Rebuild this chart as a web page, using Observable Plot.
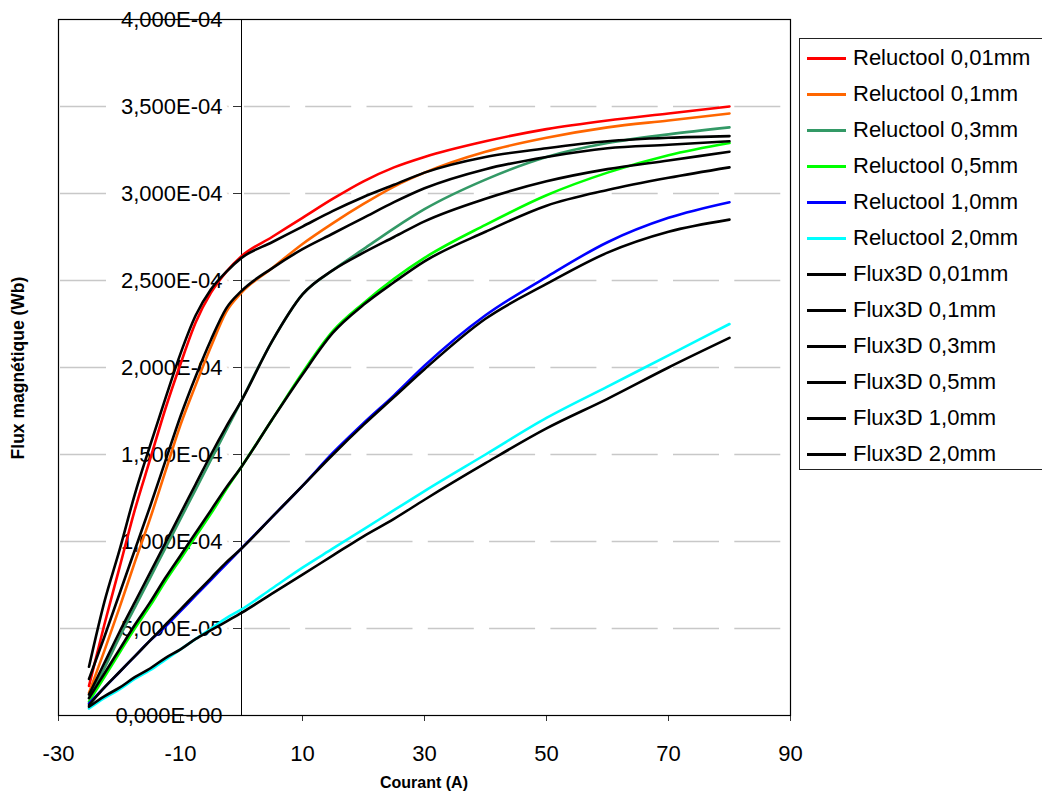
<!DOCTYPE html>
<html><head><meta charset="utf-8">
<script src="https://cdn.jsdelivr.net/npm/d3@7"></script>
<script src="https://cdn.jsdelivr.net/npm/@observablehq/plot@0.6"></script>
<style>
html,body{margin:0;padding:0;background:#fff;overflow:hidden;}
#wrap{position:relative;width:1042px;height:796px;font-family:"Liberation Sans",Arial,sans-serif;overflow:hidden;}
#legend{position:absolute;left:799px;top:38px;width:260px;height:432px;border:1px solid #222;box-sizing:border-box;padding-top:1px;background:#fff;}
.row{height:36px;display:flex;align-items:center;font-size:22px;color:#000;white-space:nowrap;}
.sw{width:39px;height:3px;margin-left:7px;margin-right:7px;flex:none;}
.title{position:absolute;font-weight:bold;white-space:nowrap;color:#000;}
#xt{left:424px;top:783px;font-size:16px;transform:translate(-50%,-50%);}
#yt{left:18px;top:368px;font-size:17.5px;transform:translate(-50%,-50%) rotate(-90deg);}
</style>
</head><body>
<div id="wrap">
  <div id="chart"></div>
  <div id="legend"></div>
  <div class="title" id="xt">Courant (A)</div>
  <div class="title" id="yt">Flux magnétique (Wb)</div>
</div>
<script>
// Current (A)
const currents = [-25, -22.5, -20, -17.5, -15, -12.5, -10, -7.5, -5, -2.5, 0, 5, 10, 15, 20, 25, 30, 40, 50, 60, 70, 80];

// Magnetic flux, in units of 1E-04 Wb
const reluctool001 = [0.17, 0.52, 0.85, 1.18, 1.47, 1.76, 2.02, 2.26, 2.43, 2.55, 2.64, 2.75, 2.86, 2.97, 3.07, 3.15, 3.21, 3.30, 3.37, 3.42, 3.46, 3.50];
const reluctool01  = [0.13, 0.37, 0.62, 0.88, 1.13, 1.40, 1.67, 1.90, 2.12, 2.32, 2.43, 2.57, 2.71, 2.83, 2.94, 3.04, 3.12, 3.24, 3.32, 3.38, 3.42, 3.46];
const reluctool03  = [0.10, 0.27, 0.45, 0.62, 0.79, 0.96, 1.13, 1.30, 1.47, 1.64, 1.81, 2.15, 2.42, 2.56, 2.68, 2.80, 2.91, 3.08, 3.21, 3.29, 3.34, 3.38];
const reluctool05  = [0.08, 0.22, 0.36, 0.50, 0.63, 0.77, 0.90, 1.03, 1.16, 1.30, 1.43, 1.70, 1.97, 2.21, 2.37, 2.51, 2.63, 2.82, 2.99, 3.12, 3.22, 3.29];
const reluctool10  = [0.07, 0.16, 0.25, 0.34, 0.43, 0.51, 0.60, 0.69, 0.78, 0.87, 0.96, 1.14, 1.32, 1.51, 1.68, 1.84, 2.01, 2.30, 2.52, 2.72, 2.86, 2.95];
const reluctool20  = [0.04, 0.10, 0.15, 0.21, 0.26, 0.32, 0.38, 0.44, 0.50, 0.56, 0.61, 0.73, 0.85, 0.96, 1.07, 1.18, 1.29, 1.50, 1.71, 1.89, 2.07, 2.25];

const flux3d001 = [0.28, 0.65, 0.95, 1.27, 1.55, 1.82, 2.08, 2.30, 2.45, 2.55, 2.63, 2.72, 2.81, 2.90, 2.98, 3.05, 3.12, 3.21, 3.26, 3.30, 3.32, 3.33];
const flux3d01  = [0.21, 0.45, 0.70, 0.95, 1.20, 1.46, 1.72, 1.95, 2.16, 2.34, 2.44, 2.57, 2.68, 2.77, 2.86, 2.95, 3.03, 3.14, 3.21, 3.26, 3.28, 3.30];
const flux3d03  = [0.12, 0.30, 0.48, 0.65, 0.82, 0.99, 1.16, 1.33, 1.50, 1.66, 1.81, 2.15, 2.42, 2.56, 2.66, 2.75, 2.84, 2.97, 3.07, 3.14, 3.19, 3.24];
const flux3d05  = [0.10, 0.24, 0.38, 0.52, 0.65, 0.79, 0.92, 1.05, 1.18, 1.31, 1.43, 1.70, 1.96, 2.20, 2.36, 2.49, 2.61, 2.78, 2.93, 3.02, 3.09, 3.15];
const flux3d10  = [0.06, 0.16, 0.25, 0.34, 0.43, 0.52, 0.61, 0.70, 0.79, 0.88, 0.96, 1.14, 1.32, 1.50, 1.67, 1.83, 1.99, 2.28, 2.48, 2.66, 2.78, 2.85];
const flux3d20  = [0.05, 0.11, 0.16, 0.22, 0.27, 0.33, 0.38, 0.44, 0.49, 0.54, 0.59, 0.70, 0.81, 0.92, 1.03, 1.13, 1.24, 1.45, 1.65, 1.82, 2.00, 2.17];

const seriesNames = ["Reluctool 0,01mm", "Reluctool 0,1mm", "Reluctool 0,3mm", "Reluctool 0,5mm", "Reluctool 1,0mm", "Reluctool 2,0mm",
                     "Flux3D 0,01mm", "Flux3D 0,1mm", "Flux3D 0,3mm", "Flux3D 0,5mm", "Flux3D 1,0mm", "Flux3D 2,0mm"];
const seriesValues = [reluctool001, reluctool01, reluctool03, reluctool05, reluctool10, reluctool20,
                      flux3d001, flux3d01, flux3d03, flux3d05, flux3d10, flux3d20];
const seriesColors = ["#ff0000", "#ff6600", "#339966", "#00ff00", "#0000ff", "#00ffff",
                      "#000000", "#000000", "#000000", "#000000", "#000000", "#000000"];

const xTicks = [-30, -10, 10, 30, 50, 70, 90];
const yTicks = [0, 0.5e-4, 1.0e-4, 1.5e-4, 2.0e-4, 2.5e-4, 3.0e-4, 3.5e-4, 4.0e-4];

function sci(d) {
  if (d === 0) return "0,000E+00";
  const e = Math.floor(Math.log10(d) + 1e-9);
  const m = d / Math.pow(10, e);
  return m.toFixed(3).replace(".", ",") + "E" + (e < 0 ? "-" : "+") + String(Math.abs(e)).padStart(2, "0");
}

const rows = [];
seriesNames.forEach((name, i) => {
  seriesValues[i].forEach((v, j) => rows.push({series: name, group: i < 6 ? "R" : "F", x: currents[j], y: v * 1e-4}));
});
const relRows = rows.filter(r => r.group === "R");
const fluxRows = rows.filter(r => r.group === "F");

const chart = Plot.plot({
  width: 1042, height: 796,
  marginLeft: 58, marginRight: 252, marginTop: 19, marginBottom: 81,
  style: {fontFamily: "'Liberation Sans', Arial, sans-serif", background: "white", color: "black", overflow: "visible"},
  x: {domain: [-30, 90]},
  y: {domain: [0, 4e-4]},
  color: {domain: seriesNames, range: seriesColors},
  marks: [
    Plot.gridY(yTicks.filter(d => d > 0 && d < 4e-4), {stroke: "#c8c8c8", strokeOpacity: 1, strokeWidth: 1.3, strokeDasharray: "46,15.3", strokeDashoffset: -2}),
    Plot.text(yTicks, {x: () => 0, y: d => d, text: sci, textAnchor: "end", dx: -19, fontSize: 22, fill: "black", stroke: "white", strokeWidth: 12}),
    Plot.axisY(yTicks, {anchor: "left", dx: 183, tickSize: 8, tickFormat: () => "", stroke: "#333", label: null}),
    Plot.axisX(xTicks, {anchor: "bottom", tickSize: 6, tickPadding: 24, fontSize: 22, tickFormat: d => String(d), label: null, stroke: "#333"}),
    Plot.ruleX([0], {stroke: "black", strokeWidth: 1}),
    Plot.frame({stroke: "black", strokeWidth: 1.2}),
    Plot.line(relRows, {x: "x", y: "y", z: "series", stroke: "series", strokeWidth: 2.6, curve: "monotone-x"}),
    Plot.line(fluxRows, {x: "x", y: "y", z: "series", stroke: "series", strokeWidth: 2.6, curve: "monotone-x"})
  ]
});
document.getElementById("chart").appendChild(chart);

const legend = document.getElementById("legend");
seriesNames.forEach((name, i) => {
  const row = document.createElement("div");
  row.className = "row";
  const sw = document.createElement("span");
  sw.className = "sw";
  sw.style.background = seriesColors[i];
  const label = document.createElement("span");
  label.textContent = name;
  row.appendChild(sw);
  row.appendChild(label);
  legend.appendChild(row);
});
</script>
</body></html>
